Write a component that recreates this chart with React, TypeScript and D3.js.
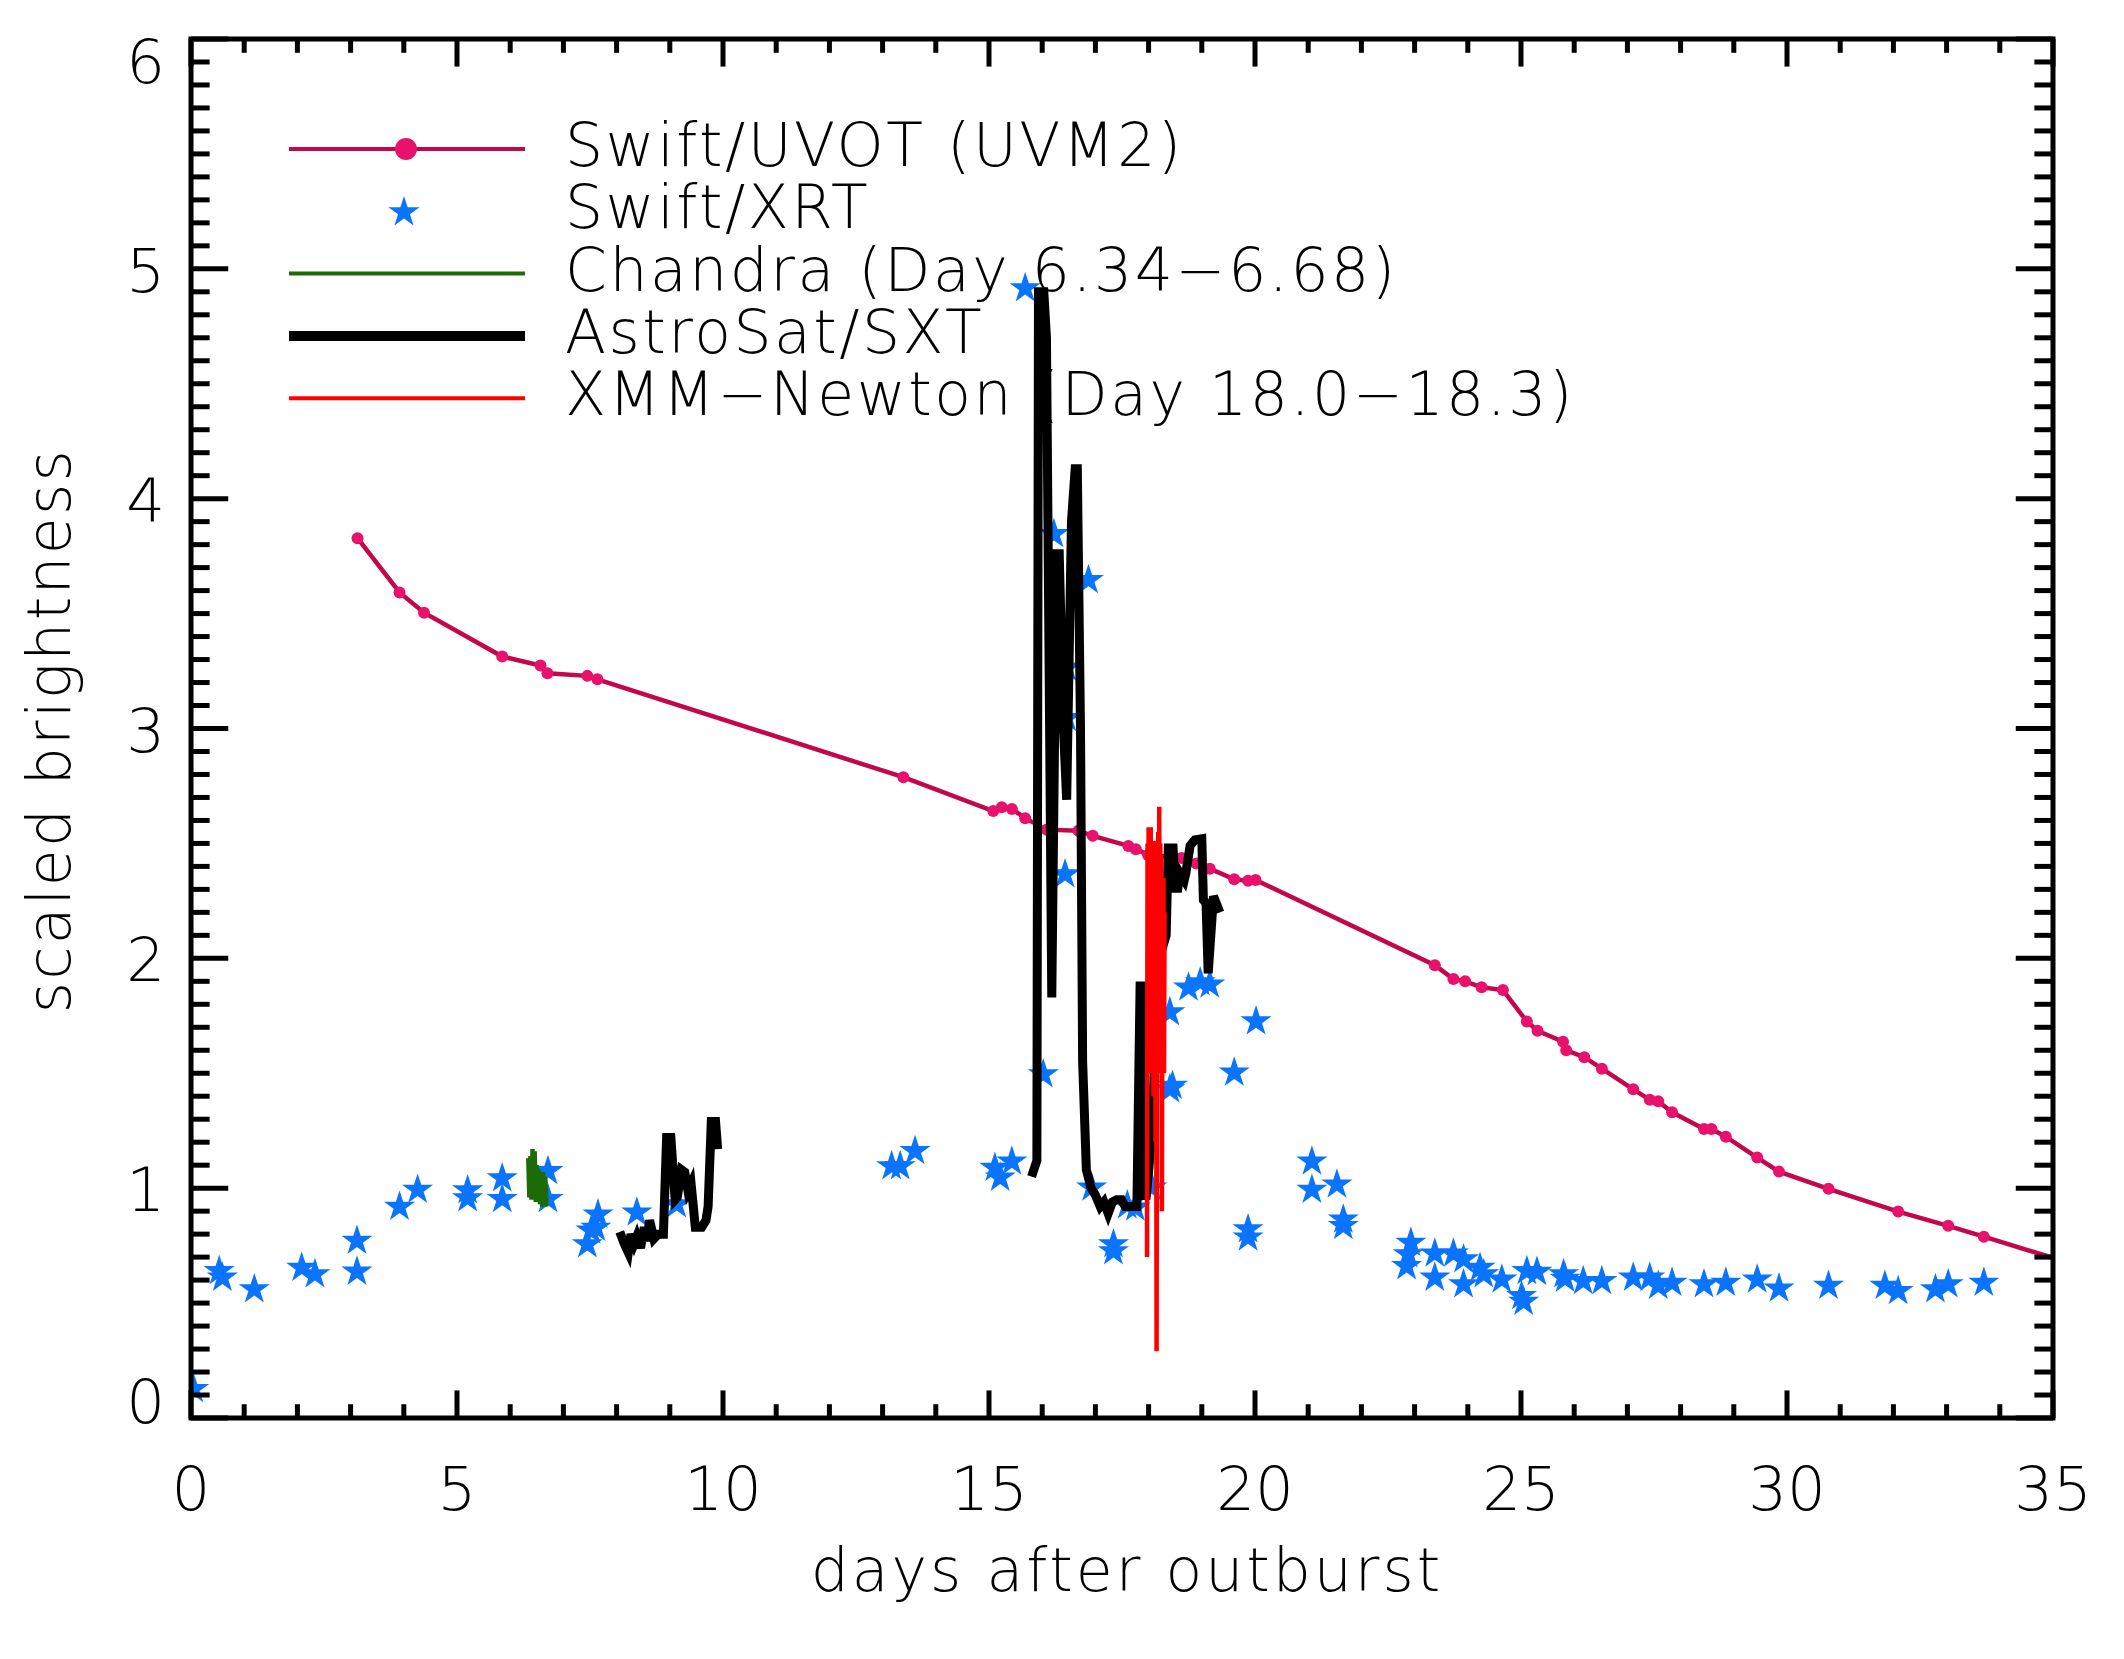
import React from 'react';
import * as d3 from 'd3';

const W = 2124;
const H = 1659;
const M = { left: 191, top: 39, right: 2053, bottom: 1418 };
const FONT = '"DejaVu Sans", "Noto Sans", sans-serif';

// Swift/UVOT (UVM2): [day, scaled brightness]
const uvotData: [number, number][] = [
    [3.13, 3.828], [3.92, 3.592], [4.38, 3.504], [5.85, 3.313], [6.57, 3.274], [6.70, 3.24],
    [7.45, 3.229], [7.64, 3.214], [13.39, 2.788], [15.08, 2.641], [15.24, 2.657], [15.43, 2.65],
    [15.68, 2.61], [16.08, 2.56], [16.68, 2.555], [16.95, 2.533], [17.62, 2.489], [17.76, 2.475],
    [17.99, 2.45], [18.62, 2.437], [18.90, 2.413], [19.15, 2.39], [19.61, 2.344], [19.87, 2.338],
    [20.01, 2.341], [23.38, 1.97], [23.73, 1.91], [23.95, 1.90], [24.26, 1.874], [24.66, 1.862],
    [25.11, 1.725], [25.31, 1.685], [25.79, 1.637], [25.85, 1.60], [26.19, 1.57], [26.52, 1.52],
    [27.11, 1.43], [27.42, 1.385], [27.58, 1.378], [27.84, 1.33], [28.44, 1.257], [28.58, 1.257],
    [28.85, 1.224], [29.44, 1.133], [29.85, 1.072], [30.78, 0.997], [32.09, 0.898], [33.03, 0.836],
    [33.70, 0.789], [35.8, 0.64],
];

// Swift/XRT
const xrtData: [number, number][] = [
    [0.05, 0.13], [0.53, 0.644], [0.59, 0.615], [1.19, 0.564], [2.08, 0.658], [2.33, 0.63],
    [3.12, 0.775], [3.12, 0.641], [3.92, 0.923], [4.26, 0.997], [5.20, 0.995], [5.20, 0.96],
    [5.85, 1.047], [5.85, 0.957], [6.71, 1.079], [6.71, 0.957], [7.45, 0.76], [7.52, 0.82],
    [7.61, 0.832], [7.65, 0.89], [8.38, 0.898], [9.13, 0.934], [13.17, 1.10], [13.33, 1.10],
    [13.61, 1.166], [15.11, 1.093], [15.21, 1.05], [15.43, 1.12], [15.68, 4.92], [16.02, 1.50],
    [16.22, 3.85], [16.43, 2.37], [16.46, 3.27], [16.46, 3.05], [16.87, 3.65], [16.93, 1.007],
    [17.34, 0.76], [17.34, 0.73], [17.60, 0.93], [17.75, 0.92], [18.06, 1.007], [18.40, 1.77],
    [18.40, 1.435], [18.45, 1.45], [18.75, 1.877], [18.97, 1.90], [19.15, 1.89], [19.61, 1.507],
    [20.02, 1.73], [19.87, 0.825], [19.87, 0.79], [21.07, 1.12], [21.07, 0.997], [21.54, 1.02],
    [21.66, 0.868], [21.66, 0.84], [22.93, 0.767], [22.88, 0.717], [22.85, 0.665], [23.38, 0.72],
    [23.38, 0.615], [23.73, 0.72], [23.92, 0.695], [23.92, 0.586], [24.23, 0.658], [24.30, 0.63],
    [24.64, 0.607], [25.01, 0.535], [25.05, 0.51], [25.11, 0.644], [25.30, 0.64], [25.80, 0.63],
    [25.83, 0.61], [26.17, 0.60], [26.52, 0.60], [27.11, 0.615], [27.42, 0.615], [27.58, 0.58],
    [27.84, 0.593], [28.44, 0.586], [28.85, 0.593], [29.44, 0.607], [29.85, 0.568], [30.78, 0.58],
    [31.84, 0.58], [32.09, 0.557], [32.79, 0.564], [33.03, 0.586], [33.70, 0.593],
];

// Chandra (Day 6.34-6.68)
const chandraData: [number, number][] = [
    [6.34, 1.13], [6.36, 0.96], [6.38, 1.14], [6.40, 0.95], [6.42, 1.17], [6.44, 0.97],
    [6.46, 1.16], [6.48, 0.94], [6.50, 1.10], [6.52, 0.95], [6.54, 1.08], [6.56, 0.93],
    [6.58, 1.06], [6.60, 0.92], [6.62, 1.07], [6.64, 0.93], [6.66, 1.05], [6.68, 0.92],
];

// AstroSat/SXT, two visits
const sxtFirst: [number, number][] = [
    [8.06, 0.81], [8.14, 0.76], [8.22, 0.72], [8.27, 0.80], [8.33, 0.76], [8.38, 0.79],
    [8.45, 0.74], [8.52, 0.83], [8.57, 0.77], [8.62, 0.86], [8.70, 0.78], [8.78, 0.80],
    [8.88, 0.80], [8.94, 1.22], [9.02, 1.22], [9.10, 0.95], [9.14, 0.96], [9.22, 1.08],
    [9.28, 1.07], [9.34, 0.99], [9.40, 1.02], [9.48, 0.83], [9.60, 0.83], [9.68, 0.86],
    [9.72, 0.92], [9.78, 1.29], [9.86, 1.29], [9.90, 1.17],
];

const sxtSecond: [number, number][] = [
    [15.80, 1.05], [15.90, 1.12], [15.93, 4.90], [16.03, 4.90], [16.08, 4.70], [16.18, 1.83],
    [16.27, 3.76], [16.32, 3.76], [16.40, 3.0], [16.46, 2.69], [16.55, 3.9], [16.62, 4.13],
    [16.66, 4.13], [16.72, 3.0], [16.76, 1.55], [16.83, 1.08], [16.92, 1.00], [17.00, 0.97],
    [17.09, 0.92], [17.16, 0.94], [17.24, 0.89], [17.32, 0.94], [17.40, 0.95], [17.49, 0.95],
    [17.56, 0.92], [17.66, 0.92], [17.78, 0.92], [17.84, 1.88], [17.90, 1.88], [17.95, 0.95],
    [18.05, 1.2], [18.20, 2.0], [18.33, 2.1], [18.37, 2.48], [18.46, 2.48], [18.50, 2.305],
    [18.55, 2.305], [18.59, 2.37], [18.67, 2.34], [18.70, 2.37], [18.78, 2.49], [18.87, 2.515],
    [19.00, 2.52], [19.03, 2.254], [19.08, 2.24], [19.12, 1.935], [19.22, 2.27], [19.34, 2.20],
];

// XMM-Newton (Day 18.0-18.3)
const xmmData: [number, number][] = [
    [17.97, 0.70], [17.98, 2.50], [17.99, 1.6], [18.00, 2.57], [18.01, 1.5], [18.02, 2.45],
    [18.03, 1.7], [18.04, 2.57], [18.05, 1.5], [18.06, 2.40], [18.07, 1.6], [18.08, 2.50],
    [18.09, 1.4], [18.10, 2.51], [18.11, 1.5], [18.12, 2.35], [18.13, 1.2], [18.14, 2.45],
    [18.15, 0.29], [18.16, 2.40], [18.17, 1.5], [18.18, 2.55], [18.19, 1.6], [18.20, 2.66],
    [18.21, 1.5], [18.22, 2.50], [18.23, 1.5], [18.24, 2.45], [18.25, 0.9], [18.26, 2.3],
    [18.27, 1.6], [18.28, 2.35], [18.29, 1.5], [18.30, 2.2],
];

const xTicks = [0, 5, 10, 15, 20, 25, 30, 35];
const yTicks = [0, 1, 2, 3, 4, 5, 6];

const legendLabels = [
    'Swift/UVOT (UVM2)',
    'Swift/XRT',
    'Chandra (Day 6.34\u22126.68)',
    'AstroSat/SXT',
    'XMM\u2212Newton (Day 18.0\u221218.3)',
];

const UVOT_LINE = '#c2074b';
const UVOT_DOT = '#e8116c';
const XRT_BLUE = '#0a74ff';
const CHANDRA_GREEN = '#1c6b06';
const XMM_RED = '#ff0000';

const App: React.FC = () => {
    const x = d3.scaleLinear().domain([0, 35]).range([M.left, M.right]);
    const y = d3.scaleLinear().domain([0, 6]).range([M.bottom, M.top]);

    const line = d3.line<[number, number]>()
        .x(d => x(d[0]))
        .y(d => y(d[1]));

    const star = d3.symbol().type(d3.symbolStar).size(300)()!;

    const xMinor = d3.range(0, 35.001, 1);
    const yMinor = d3.range(0, 6.001, 0.1);
    const plotH = M.bottom - M.top;
    const plotW = M.right - M.left;
    const xMajLen = plotH * 0.02;
    const yMajLen = plotW * 0.02;

    // IDL keeps the end labels inside the frame
    const yLabelPos = (v: number) =>
        Math.max(M.top + 23, Math.min(M.bottom - 16, y(v) + 2)) + 21;

    const legX0 = 289;
    const legX1 = 525;
    const legMid = 406;
    const legY0 = 149;
    const legStep = 62.3;
    const legText = 565;

    return (
        <svg
            width={W}
            height={H}
            viewBox={`0 0 ${W} ${H}`}
            style={{ position: 'absolute', left: 0, top: 0, background: '#fff' }}
            fontFamily={FONT}
            fontWeight={200}
        >
            <defs>
                <clipPath id="plot-clip">
                    <rect x={M.left} y={M.top} width={plotW} height={plotH} />
                </clipPath>
            </defs>
            <rect x={0} y={0} width={W} height={H} fill="#fff" />

            <g clipPath="url(#plot-clip)">
                <path d={line(uvotData)!} fill="none" stroke={UVOT_LINE} strokeWidth={4.5} />
                {uvotData.map((d, i) => (
                    <circle key={`u${i}`} cx={x(d[0])} cy={y(d[1])} r={6} fill={UVOT_DOT} />
                ))}
                {xrtData.map((d, i) => (
                    <path key={`x${i}`} d={star} transform={`translate(${x(d[0])},${y(d[1]) + 1})`} fill={XRT_BLUE} />
                ))}
                <path d={line(chandraData)!} fill="none" stroke={CHANDRA_GREEN} strokeWidth={4.5} />
                <path d={line(sxtFirst)!} fill="none" stroke="#000" strokeWidth={9} strokeLinejoin="miter" />
                <path d={line(sxtSecond)!} fill="none" stroke="#000" strokeWidth={9} strokeLinejoin="miter" />
                <path d={line(xmmData)!} fill="none" stroke={XMM_RED} strokeWidth={4.5} />
            </g>

            {/* frame */}
            <rect x={M.left} y={M.top} width={plotW} height={plotH} fill="none" stroke="#000" strokeWidth={5} />

            {/* ticks on all four sides, pointing inward */}
            <g stroke="#000" strokeWidth={5}>
                {xMinor.map(v => {
                    const major = v % 5 === 0;
                    const len = major ? xMajLen : xMajLen / 2;
                    return (
                        <g key={`xt${v}`}>
                            <line x1={x(v)} x2={x(v)} y1={M.bottom} y2={M.bottom - len} />
                            <line x1={x(v)} x2={x(v)} y1={M.top} y2={M.top + len} />
                        </g>
                    );
                })}
                {yMinor.map((v, i) => {
                    const major = i % 10 === 0;
                    const len = major ? yMajLen : yMajLen / 2;
                    return (
                        <g key={`yt${i}`}>
                            <line x1={M.left} x2={M.left + len} y1={y(v)} y2={y(v)} />
                            <line x1={M.right} x2={M.right - len} y1={y(v)} y2={y(v)} />
                        </g>
                    );
                })}
            </g>

            {/* tick labels */}
            <g fontSize={61} fill="#000">
                {xTicks.map(v => (
                    <text key={`xl${v}`} x={x(v)} y={1510} textAnchor="middle">{v}</text>
                ))}
                {yTicks.map(v => (
                    <text key={`yl${v}`} x={165} y={yLabelPos(v)} textAnchor="end">{v}</text>
                ))}
            </g>

            {/* axis titles */}
            <text
                x={(M.left + M.right) / 2 + 5}
                y={1591}
                textAnchor="middle"
                fontSize={60}
                letterSpacing={3}
                fill="#000"
            >
                days after outburst
            </text>
            <text
                transform={`translate(70, ${(M.top + M.bottom) / 2 + 2}) rotate(-90)`}
                textAnchor="middle"
                fontSize={60}
                letterSpacing={2.3}
                fill="#000"
            >
                scaled brightness
            </text>

            {/* legend */}
            <g>
                <line x1={legX0} x2={legX1} y1={legY0} y2={legY0} stroke={UVOT_LINE} strokeWidth={4} />
                <circle cx={legMid} cy={legY0} r={11} fill={UVOT_DOT} />
                <path d={star} transform={`translate(${legMid - 2},${legY0 + legStep + 1})`} fill={XRT_BLUE} />
                <line x1={legX0} x2={legX1} y1={legY0 + legStep * 2} y2={legY0 + legStep * 2} stroke={CHANDRA_GREEN} strokeWidth={4} />
                <line x1={legX0} x2={legX1} y1={legY0 + legStep * 3} y2={legY0 + legStep * 3} stroke="#000" strokeWidth={10} />
                <line x1={legX0} x2={legX1} y1={legY0 + legStep * 4} y2={legY0 + legStep * 4} stroke={XMM_RED} strokeWidth={4} />
                {legendLabels.map((t, i) => (
                    <text
                        key={t}
                        x={legText}
                        y={legY0 + legStep * i + 17}
                        fontSize={60}
                        letterSpacing={2.5}
                        fill="#000"
                    >
                        {t}
                    </text>
                ))}
            </g>
        </svg>
    );
};

export default App;
